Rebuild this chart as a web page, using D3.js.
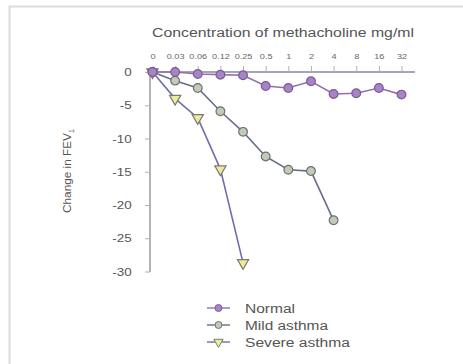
<!DOCTYPE html>
<html>
<head>
<meta charset="utf-8">
<script src="https://cdn.jsdelivr.net/npm/d3@7"></script>
<style>
  html, body { margin: 0; padding: 0; background: #fff; }
  svg { display: block; font-family: "Liberation Sans", Arial, sans-serif; }
</style>
</head>
<body>
<svg id="chart" width="463" height="364"></svg>
<script>
// Methacholine doses (mg/ml) along the top axis
const doses = ["0", "0.03", "0.06", "0.12", "0.25", "0.5", "1", "2", "4", "8", "16", "32"];
// Change in FEV1 at each dose, per group
const normal = [0, 0, -0.3, -0.4, -0.5, -2.1, -2.4, -1.4, -3.3, -3.2, -2.4, -3.4];
const mildAsthma = [0, -1.3, -2.4, -5.9, -9.0, -12.7, -14.7, -14.9, -22.3];
const severeAsthma = [0, -4.0, -6.9, -14.6, -28.7];
const yTicks = [0, -5, -10, -15, -20, -25, -30];
const seriesNames = ["Normal", "Mild asthma", "Severe asthma"];

const svg = d3.select("#chart");
const wide = 1.22; // the lettering is set in a widened face

// light frame
svg.append("rect")
  .attr("x", 9.5).attr("y", 6.5)
  .attr("width", 470).attr("height", 380)
  .attr("fill", "none").attr("stroke", "#dcdcdc").attr("stroke-width", 2);

const x = d3.scalePoint().domain(doses).range([152.5, 401.5]);
const y = d3.scaleLinear().domain([0, -30]).range([72, 271.5]);

// top (dose) axis
const xAxis = svg.append("g")
  .attr("transform", "translate(0,72)")
  .call(d3.axisTop(x).tickSize(6).tickPadding(7));
xAxis.select(".domain").attr("d", "M150,0H415").attr("stroke", "#8a8a9a").attr("stroke-width", 1.3);
xAxis.selectAll(".tick line").attr("stroke", "#b0b0b8");
xAxis.selectAll(".tick text")
  .attr("fill", "#666").attr("font-size", 7.5)
  .attr("transform", `scale(${wide},1)`)
  .attr("dy", "0em");

// left (FEV1) axis, plain hyphen for the minus sign
const yAxis = svg.append("g")
  .attr("transform", "translate(150,0)")
  .call(d3.axisLeft(y).tickValues(yTicks).tickSize(5).tickPadding(10).tickFormat(d => String(d)));
yAxis.select(".domain").attr("d", "M0,72V272").attr("stroke", "#8a8a9a").attr("stroke-width", 1.3);
yAxis.selectAll(".tick line").attr("stroke", "#b0b0b8");
yAxis.selectAll(".tick text")
  .attr("fill", "#555").attr("font-size", 11)
  .attr("transform", `scale(${wide},1)`);

// titles
svg.append("text")
  .attr("x", 152).attr("y", 37)
  .attr("font-size", 12).attr("fill", "#555")
  .attr("textLength", 262).attr("lengthAdjust", "spacingAndGlyphs")
  .text("Concentration of methacholine mg/ml");

const yTitle = svg.append("text")
  .attr("transform", "translate(71,213) rotate(-90)")
  .attr("font-size", 10.5).attr("fill", "#555");
yTitle.append("tspan").attr("textLength", 80).attr("lengthAdjust", "spacingAndGlyphs").text("Change in FEV");
yTitle.append("tspan").attr("font-size", 7).attr("dy", 3).text("1");

const styles = [
  { line: "#9270ae", fill: "#a785c4", stroke: "#7a5a96", shape: d3.symbolCircle },
  { line: "#6a6c8c", fill: "#c0ccb6", stroke: "#6e7070", shape: d3.symbolCircle },
  { line: "#6e6eaa", fill: "#ecec9e", stroke: "#7a7a70", shape: d3.symbolTriangle }
];
const seriesData = [normal, mildAsthma, severeAsthma];

const line = d3.line().x((d, i) => x(doses[i])).y(d => y(d));

// draw back to front so Normal sits on top
for (let s = seriesData.length - 1; s >= 0; s--) {
  const st = styles[s];
  const g = svg.append("g");
  g.append("path")
    .datum(seriesData[s])
    .attr("d", line)
    .attr("fill", "none")
    .attr("stroke", st.line)
    .attr("stroke-width", 1.6);
  const sym = d3.symbol().type(st.shape).size(st.shape === d3.symbolTriangle ? 55 : 60);
  g.selectAll("path.m")
    .data(seriesData[s])
    .join("path")
    .attr("class", "m")
    .attr("d", sym)
    .attr("transform", (d, i) => `translate(${x(doses[i])},${y(d)})` + (st.shape === d3.symbolTriangle ? " rotate(180)" : ""))
    .attr("fill", st.fill)
    .attr("stroke", st.stroke)
    .attr("stroke-width", 1.2);
}

// legend
const legendWidths = [50, 83, 105];
const legend = svg.append("g");
seriesNames.forEach((name, i) => {
  const st = styles[i];
  const ly = 308 + i * 17;
  legend.append("line")
    .attr("x1", 207).attr("x2", 230).attr("y1", ly).attr("y2", ly)
    .attr("stroke", st.line).attr("stroke-width", 1.4);
  legend.append("path")
    .attr("d", d3.symbol().type(st.shape).size(38)())
    .attr("transform", `translate(218.5,${ly})` + (st.shape === d3.symbolTriangle ? " rotate(180)" : ""))
    .attr("fill", st.fill).attr("stroke", st.stroke).attr("stroke-width", 1);
  legend.append("text")
    .attr("x", 245).attr("y", ly + 4.5)
    .attr("font-size", 12).attr("fill", "#555")
    .attr("textLength", legendWidths[i]).attr("lengthAdjust", "spacingAndGlyphs")
    .text(name);
});
</script>
</body>
</html>
